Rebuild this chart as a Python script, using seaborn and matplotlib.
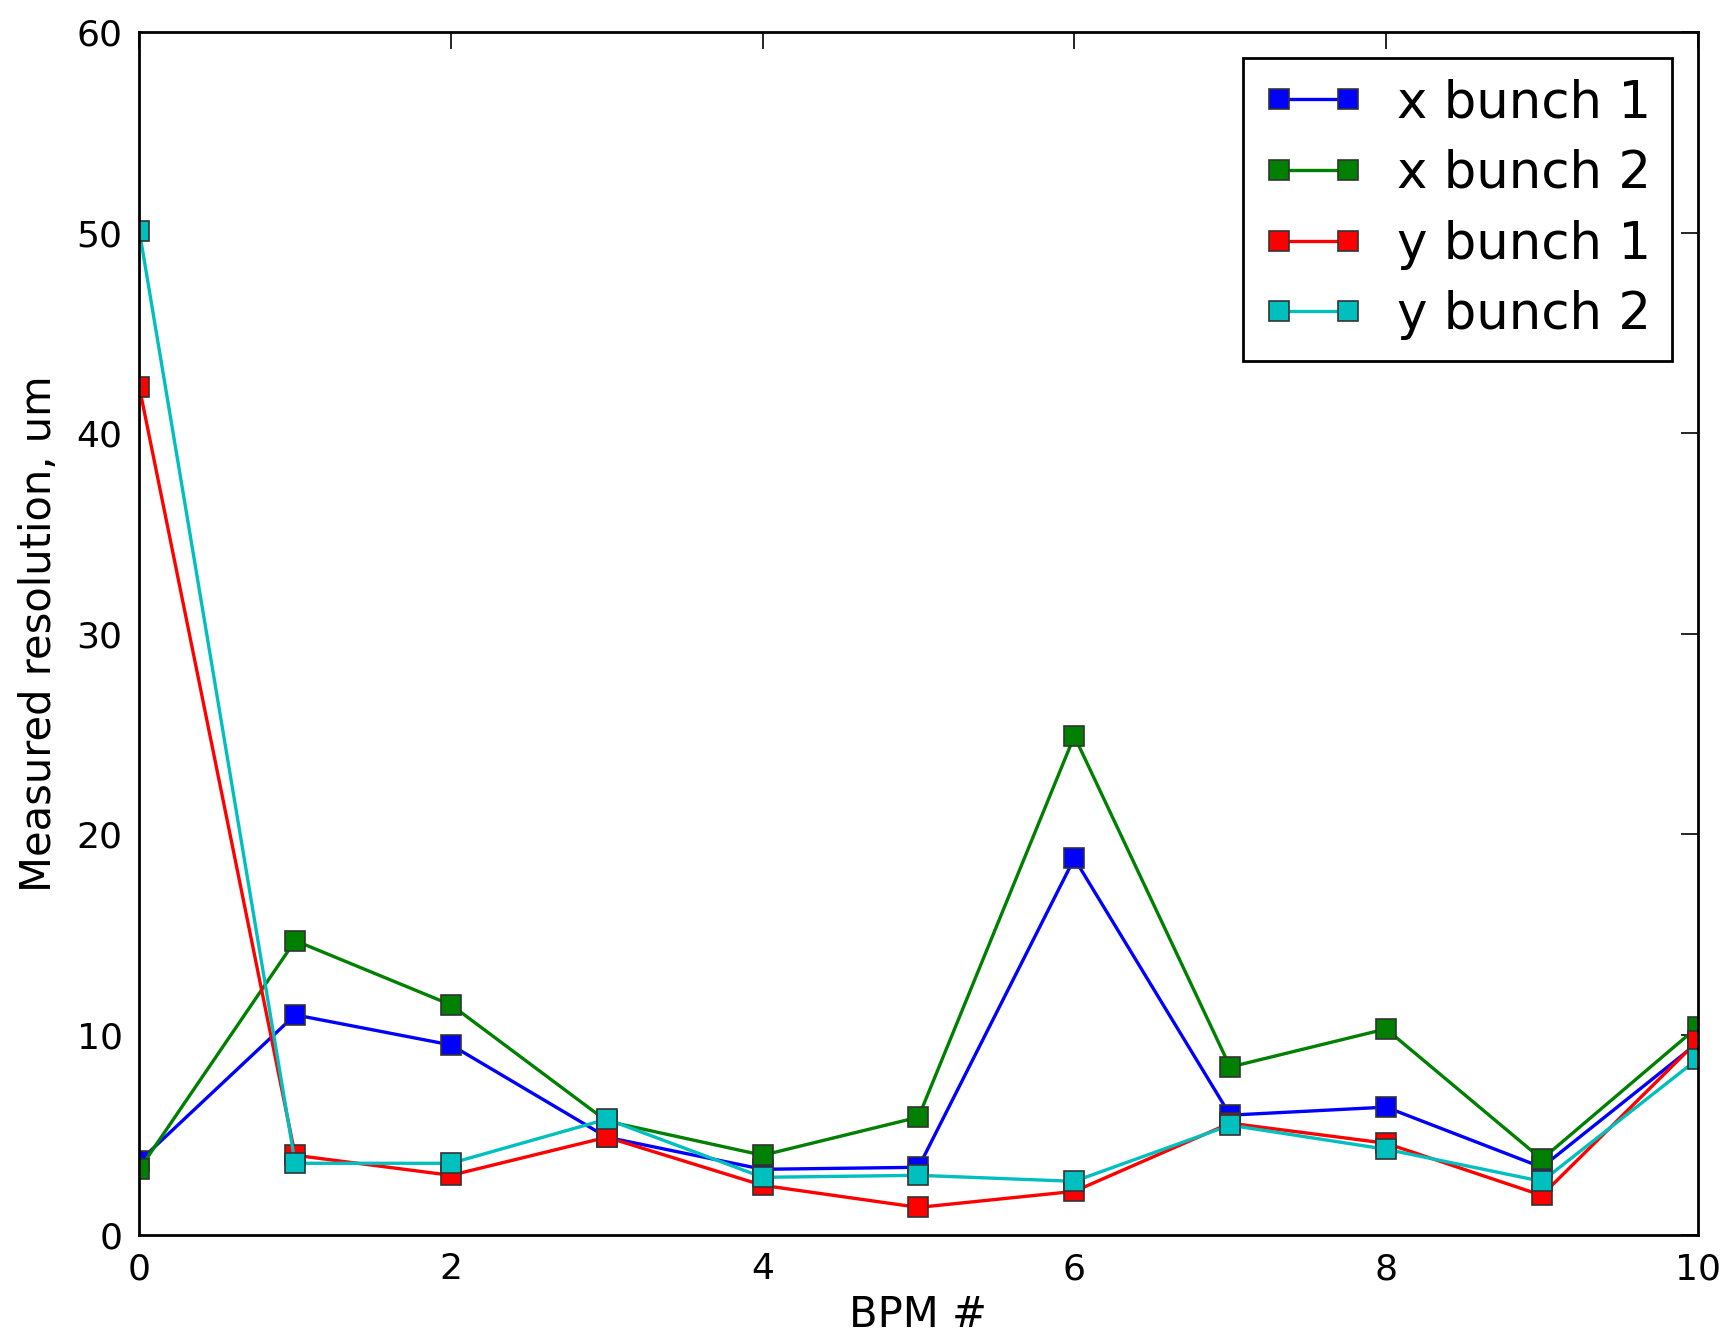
import pandas as pd
import seaborn as sns
import matplotlib.pyplot as plt

# BPM index and measured resolutions (um)
bpm = [0, 1, 2, 3, 4, 5, 6, 7, 8, 9, 10]
x_bunch1 = [3.7, 11.0, 9.5, 4.9, 3.3, 3.4, 18.8, 6.0, 6.4, 3.4, 9.6]
x_bunch2 = [3.3, 14.7, 11.5, 5.7, 4.0, 5.9, 24.9, 8.4, 10.3, 3.8, 10.4]
y_bunch1 = [42.3, 4.0, 3.0, 4.9, 2.5, 1.4, 2.2, 5.6, 4.6, 2.0, 9.7]
y_bunch2 = [50.1, 3.6, 3.6, 5.8, 2.9, 3.0, 2.7, 5.5, 4.3, 2.7, 8.8]

series_names = ['x bunch 1', 'x bunch 2', 'y bunch 1', 'y bunch 2']
colors = ['#0000ff', '#008000', '#ff0000', '#00bfbf']

frames = []
for name, vals in zip(series_names, [x_bunch1, x_bunch2, y_bunch1, y_bunch2]):
    frames.append(pd.DataFrame({'BPM': bpm, 'res': vals, 'series': name}))
df = pd.concat(frames, ignore_index=True)

sns.set_style('white')
plt.rcParams['font.family'] = ['DejaVu Sans']
plt.rcParams['text.color'] = 'black'
plt.rcParams['axes.labelcolor'] = 'black'

fig = plt.figure(figsize=(8.6, 6.7), dpi=200)
ax = fig.add_axes([0.081, 0.078, 0.906, 0.898])

sns.lineplot(data=df, x='BPM', y='res', hue='series', hue_order=series_names,
             palette=dict(zip(series_names, colors)), marker='s', markersize=7,
             markeredgecolor='#333333', markeredgewidth=0.6, linewidth=1.2,
             ax=ax)

ax.set_xlim(0, 10)
ax.set_ylim(0, 60)
ax.set_xticks([0, 2, 4, 6, 8, 10])
ax.set_yticks([0, 10, 20, 30, 40, 50, 60])
ax.tick_params(direction='in', top=True, right=True, length=6, width=0.6,
               labelsize=13, pad=6, colors='black')
for s in ax.spines.values():
    s.set_visible(True)
    s.set_color('black')
    s.set_linewidth(1.0)

ax.set_xlabel('BPM #', fontsize=15, labelpad=3)
ax.set_ylabel('Measured resolution, um', fontsize=15, labelpad=6)

handles, labels = ax.get_legend_handles_labels()
ax.legend(handles, labels, loc='upper right', numpoints=2, fontsize=18.5,
          handlelength=1.95, handletextpad=0.65, labelspacing=0.4,
          borderpad=0.4, fancybox=False, framealpha=1, edgecolor='black')

plt.savefig('out.png', dpi=200)
